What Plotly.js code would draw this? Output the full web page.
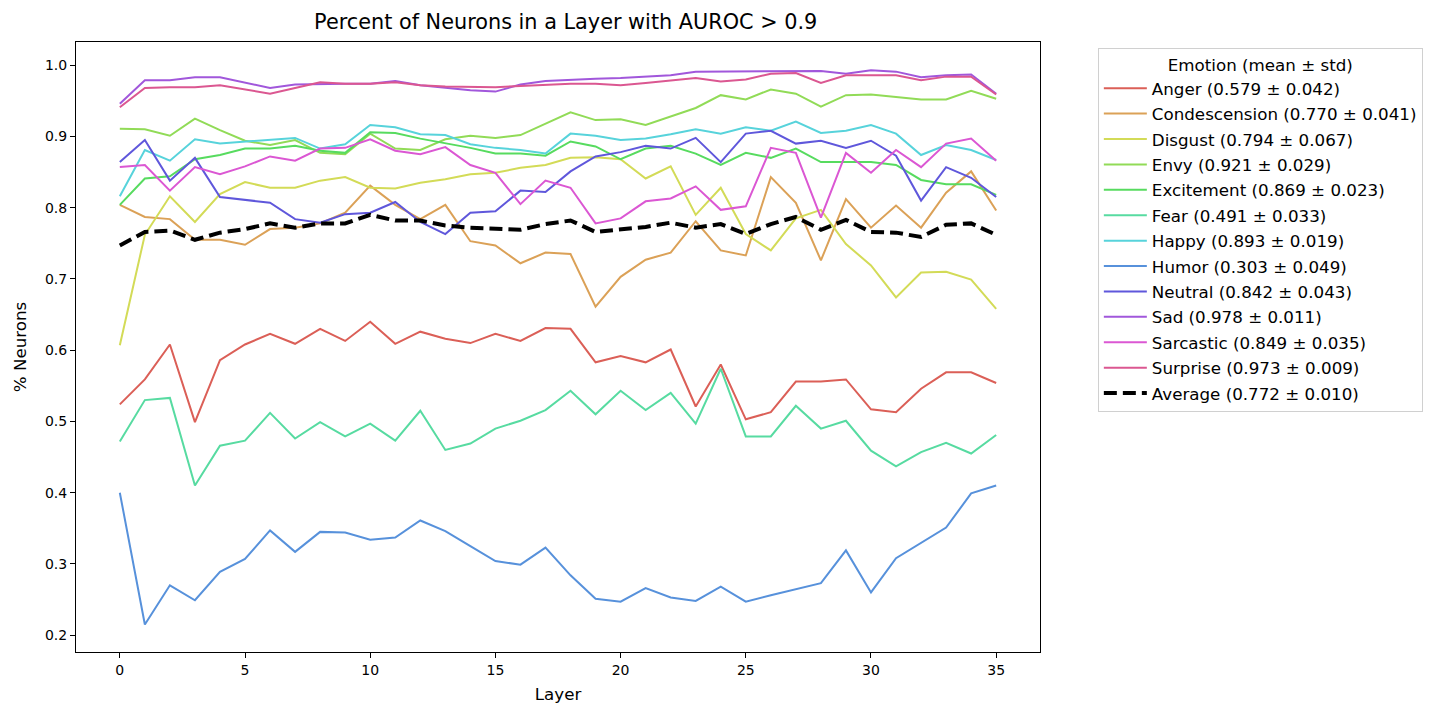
<!DOCTYPE html>
<html>
<head>
<meta charset="utf-8">
<script src="https://cdn.plot.ly/plotly-3.0.1.min.js"></script>
<style>html,body{margin:0;padding:0;background:#fff;}#chart{width:1435px;height:714px;}</style>
</head>
<body>
<div id="chart"></div>
<script>
const layers = [0,1,2,3,4,5,6,7,8,9,10,11,12,13,14,15,16,17,18,19,20,21,22,23,24,25,26,27,28,29,30,31,32,33,34,35];

const anger = [0.524,0.559,0.608,0.499,0.586,0.608,0.623,0.609,0.630,0.613,0.640,0.609,0.626,0.616,0.610,0.623,0.613,0.631,0.630,0.583,0.592,0.583,0.601,0.521,0.580,0.503,0.513,0.556,0.556,0.559,0.517,0.513,0.546,0.569,0.569,0.554];
const condescension = [0.804,0.787,0.784,0.755,0.755,0.748,0.770,0.772,0.778,0.793,0.831,0.804,0.784,0.804,0.753,0.747,0.722,0.737,0.735,0.661,0.703,0.727,0.737,0.781,0.740,0.733,0.843,0.807,0.726,0.812,0.772,0.803,0.772,0.821,0.851,0.796];
const disgust = [0.607,0.762,0.816,0.780,0.819,0.836,0.828,0.828,0.838,0.843,0.828,0.827,0.835,0.840,0.847,0.849,0.856,0.860,0.870,0.871,0.868,0.841,0.858,0.790,0.828,0.763,0.740,0.785,0.797,0.749,0.719,0.674,0.709,0.710,0.699,0.658];
const envy = [0.911,0.910,0.901,0.925,0.909,0.894,0.888,0.895,0.877,0.875,0.904,0.883,0.881,0.896,0.901,0.898,0.902,0.918,0.934,0.923,0.924,0.916,0.928,0.940,0.958,0.952,0.966,0.960,0.942,0.958,0.959,0.956,0.952,0.952,0.964,0.953];
const excitement = [0.804,0.841,0.844,0.868,0.874,0.883,0.883,0.887,0.880,0.877,0.906,0.905,0.897,0.891,0.884,0.876,0.876,0.873,0.893,0.886,0.868,0.883,0.887,0.876,0.860,0.877,0.870,0.883,0.864,0.864,0.864,0.860,0.839,0.833,0.833,0.818];
const fear = [0.472,0.530,0.533,0.410,0.466,0.473,0.512,0.476,0.499,0.479,0.497,0.473,0.515,0.460,0.469,0.490,0.501,0.516,0.543,0.510,0.543,0.516,0.540,0.497,0.574,0.479,0.479,0.522,0.490,0.501,0.459,0.437,0.457,0.470,0.455,0.481];
const happy = [0.816,0.881,0.866,0.896,0.890,0.893,0.895,0.898,0.883,0.889,0.916,0.913,0.903,0.902,0.889,0.884,0.881,0.876,0.904,0.901,0.895,0.897,0.903,0.910,0.904,0.913,0.908,0.921,0.905,0.908,0.916,0.904,0.874,0.888,0.881,0.867];
const humor = [0.400,0.215,0.270,0.249,0.289,0.307,0.347,0.317,0.345,0.344,0.334,0.337,0.361,0.346,0.325,0.304,0.299,0.323,0.284,0.251,0.247,0.266,0.253,0.248,0.268,0.247,0.256,0.264,0.273,0.319,0.260,0.308,0.330,0.351,0.399,0.410];
const neutral = [0.864,0.895,0.838,0.870,0.815,0.811,0.807,0.784,0.779,0.791,0.793,0.808,0.780,0.763,0.793,0.795,0.824,0.822,0.851,0.872,0.878,0.887,0.883,0.898,0.864,0.904,0.908,0.890,0.894,0.884,0.894,0.873,0.810,0.857,0.842,0.815];
const sad = [0.946,0.979,0.979,0.983,0.983,0.976,0.968,0.973,0.974,0.974,0.974,0.978,0.972,0.968,0.965,0.963,0.973,0.978,0.980,0.981,0.982,0.984,0.986,0.991,0.991,0.992,0.992,0.992,0.992,0.988,0.993,0.991,0.983,0.986,0.987,0.960];
const sarcastic = [0.857,0.860,0.824,0.857,0.847,0.858,0.872,0.866,0.883,0.884,0.896,0.880,0.875,0.885,0.860,0.849,0.805,0.838,0.828,0.778,0.785,0.809,0.813,0.830,0.797,0.802,0.884,0.877,0.786,0.877,0.849,0.881,0.857,0.890,0.897,0.866];
const surprise = [0.941,0.968,0.969,0.969,0.972,0.966,0.960,0.968,0.976,0.974,0.974,0.976,0.972,0.970,0.969,0.969,0.971,0.973,0.974,0.974,0.972,0.975,0.979,0.982,0.977,0.980,0.988,0.989,0.975,0.986,0.986,0.986,0.979,0.984,0.984,0.959];
const average = [0.747,0.766,0.768,0.755,0.765,0.770,0.778,0.772,0.778,0.778,0.790,0.782,0.782,0.775,0.772,0.770,0.769,0.777,0.782,0.766,0.770,0.773,0.779,0.772,0.777,0.763,0.777,0.787,0.769,0.783,0.766,0.765,0.759,0.776,0.778,0.762];

const emotionNames = ["Anger","Condescension","Disgust","Envy","Excitement","Fear","Happy","Humor","Neutral","Sad","Sarcastic","Surprise","Average"];
const emotionStats = ["(0.579 ± 0.042)","(0.770 ± 0.041)","(0.794 ± 0.067)","(0.921 ± 0.029)","(0.869 ± 0.023)","(0.491 ± 0.033)","(0.893 ± 0.019)","(0.303 ± 0.049)","(0.842 ± 0.043)","(0.978 ± 0.011)","(0.849 ± 0.035)","(0.973 ± 0.009)","(0.772 ± 0.010)"];
const seriesValues = [anger,condescension,disgust,envy,excitement,fear,happy,humor,neutral,sad,sarcastic,surprise,average];
const colors = ["#db5f57","#dba157","#d3db57","#91db57","#57db5f","#57dba1","#57d3db","#5791db","#5f57db","#a157db","#db57d3","#db5791","#000000"];

const traces = seriesValues.map((vals, i) => {
  const isAvg = emotionNames[i] === "Average";
  return {
    x: layers,
    y: vals,
    type: "scatter",
    mode: "lines",
    name: emotionNames[i] + " " + emotionStats[i],
    legendgroup: "g" + i,
    line: isAvg ? {color: colors[i], width: 4, dash: "13px,6px"} : {color: colors[i], width: 2},
    hoverinfo: "x+y+name"
  };
});

const font = "DejaVu Sans, sans-serif";
const layout = {
  width: 1435,
  height: 714,
  paper_bgcolor: "#ffffff",
  plot_bgcolor: "#ffffff",
  margin: {l: 76, r: 395, t: 42, b: 62, pad: 0},
  font: {family: font, size: 14, color: "#000"},
  title: {
    text: "Percent of Neurons in a Layer with AUROC > 0.9",
    font: {family: font, size: 20.8, color: "#000"},
    x: 0.508, xref: "paper", xanchor: "center",
    y: 1 - 22/714, yref: "container", yanchor: "middle"
  },
  xaxis: {
    range: [-1.75, 36.75],
    tickmode: "array",
    tickvals: [0,5,10,15,20,25,30,35],
    ticks: "outside", ticklen: 5, tickwidth: 1, tickcolor: "#000",
    showline: true, linecolor: "#000", linewidth: 1, mirror: true,
    showgrid: false, zeroline: false,
    tickfont: {family: font, size: 14, color: "#000"},
    title: {text: "Layer", font: {family: font, size: 16.7, color: "#000"}, standoff: 11}
  },
  yaxis: {
    range: [0.1764, 1.0326],
    tickmode: "array",
    tickvals: [0.2,0.3,0.4,0.5,0.6,0.7,0.8,0.9,1.0],
    ticktext: ["0.2","0.3","0.4","0.5","0.6","0.7","0.8","0.9","1.0"],
    ticks: "outside", ticklen: 5, tickwidth: 1, tickcolor: "#000",
    showline: true, linecolor: "#000", linewidth: 1, mirror: true,
    showgrid: false, zeroline: false,
    tickfont: {family: font, size: 14, color: "#000"},
    title: {text: "% Neurons", font: {family: font, size: 16.7, color: "#000"}, standoff: 14}
  },
  showlegend: true,
  legend: {
    x: 1.06, xanchor: "left", y: 0.99, yanchor: "top",
    bgcolor: "#ffffff", bordercolor: "#d0d0d0", borderwidth: 1,
    font: {family: font, size: 16.7, color: "#000"},
    title: {text: "Emotion (mean ± std)", side: "top center", font: {family: font, size: 16.7, color: "#000"}},
    tracegroupgap: 0.7,
    itemwidth: 43
  }
};

Plotly.newPlot("chart", traces, layout, {displayModeBar: false, staticPlot: true});
</script>
</body>
</html>
